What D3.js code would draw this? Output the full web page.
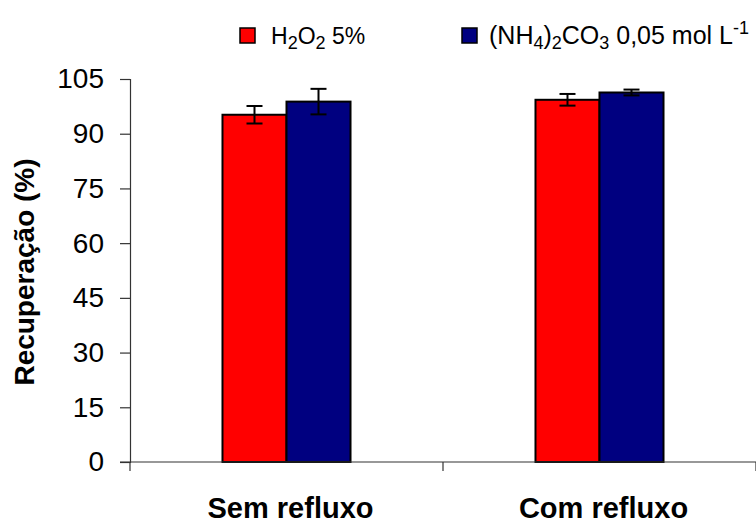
<!DOCTYPE html>
<html><head><meta charset="utf-8">
<script src="https://cdn.jsdelivr.net/npm/d3@7"></script>
<style>body{margin:0;background:#fff;}svg{display:block;font-family:Arial,"Liberation Sans",sans-serif;}</style>
</head><body>
<svg id="c" width="756" height="523"></svg>
<script>
const categories = ["Sem refluxo", "Com refluxo"];
const seriesNames = ["H2O2", "NH4CO3"];
const seriesColors = ["#ff0000", "#000080"];
const valuesH2O2 = [95.2, 99.3];
const errorsH2O2 = [2.4, 1.6];
const valuesNH4 = [98.8, 101.3];
const errorsNH4 = [3.5, 0.8];
const yTicks = [0, 15, 30, 45, 60, 75, 90, 105];

const svg = d3.select("#c");
const x0 = d3.scaleBand().domain(categories).range([130, 756]).padding(0);
const x1 = d3.scaleBand().domain(seriesNames).range([0, x0.bandwidth()]).paddingInner(0).paddingOuter(1.445);
const y = d3.scaleLinear().domain([0, 105]).range([462, 79]);

const data = categories.map((c, i) => ({
  cat: c,
  bars: [
    {s: seriesNames[0], v: valuesH2O2[i], e: errorsH2O2[i], col: seriesColors[0]},
    {s: seriesNames[1], v: valuesNH4[i], e: errorsNH4[i], col: seriesColors[1]}
  ]
}));

// y axis
const yAxis = svg.append("g").attr("transform", "translate(130,0)")
  .call(d3.axisLeft(y).tickValues(yTicks).tickSize(10).tickPadding(16));
yAxis.select(".domain").attr("stroke", "#333").attr("stroke-width", 1.2);
yAxis.selectAll(".tick line").attr("stroke", "#333").attr("stroke-width", 1.2);
yAxis.selectAll(".tick text").attr("font-size", 28).attr("fill", "#000")
  .attr("font-family", "Arial, 'Liberation Sans', sans-serif");

// bars
const g = svg.append("g");
data.forEach(d => {
  d.bars.forEach(b => {
    const bx = x0(d.cat) + x1(b.s);
    g.append("rect").attr("x", bx).attr("y", y(b.v))
      .attr("width", x1.bandwidth()).attr("height", y(0) - y(b.v))
      .attr("fill", b.col).attr("stroke", "#000").attr("stroke-width", 2);
  });
});
// error bars
data.forEach(d => {
  d.bars.forEach(b => {
    const cx = x0(d.cat) + x1(b.s) + x1.bandwidth() / 2;
    const eg = g.append("g").attr("stroke", "#000").attr("stroke-width", 2);
    eg.append("line").attr("x1", cx).attr("x2", cx).attr("y1", y(b.v + b.e)).attr("y2", y(b.v - b.e));
    eg.append("line").attr("x1", cx - 8).attr("x2", cx + 8).attr("y1", y(b.v + b.e)).attr("y2", y(b.v + b.e));
    eg.append("line").attr("x1", cx - 8).attr("x2", cx + 8).attr("y1", y(b.v - b.e)).attr("y2", y(b.v - b.e));
  });
});

// x axis
const xg = svg.append("g");
xg.append("line").attr("x1", 120).attr("x2", 756).attr("y1", y(0)).attr("y2", y(0))
  .attr("stroke", "#333").attr("stroke-width", 1.2);
const bounds = [x0.range()[0], x0(categories[1]), x0.range()[1]];
bounds.forEach(bx => {
  xg.append("line").attr("x1", bx).attr("x2", bx).attr("y1", y(0)).attr("y2", y(0) + 9)
    .attr("stroke", "#333").attr("stroke-width", 1.2);
});
categories.forEach(c => {
  svg.append("text").attr("x", x0(c) + x0.bandwidth() / 2 + 4).attr("y", 518)
    .attr("text-anchor", "middle").attr("font-size", 29).attr("font-weight", "bold")
    .attr("fill", "#000").text(c);
});

// y title
svg.append("text").attr("transform", "translate(34,272) rotate(-90)")
  .attr("text-anchor", "middle").attr("font-size", 28).attr("font-weight", "bold")
  .attr("fill", "#000").text("Recuperação (%)");

// legend
const leg = svg.append("g");
leg.append("rect").attr("x", 240).attr("y", 28).attr("width", 15).attr("height", 15)
  .attr("fill", seriesColors[0]).attr("stroke", "#000").attr("stroke-width", 1.5);
const t1 = leg.append("text").attr("x", 271).attr("y", 44).attr("font-size", 23).attr("fill", "#000");
t1.append("tspan").text("H");
t1.append("tspan").attr("font-size", 18).attr("dy", 5).text("2");
t1.append("tspan").attr("dy", -5).text("O");
t1.append("tspan").attr("font-size", 18).attr("dy", 5).text("2");
t1.append("tspan").attr("dy", -5).text(" 5%");

leg.append("rect").attr("x", 462).attr("y", 28).attr("width", 15).attr("height", 15)
  .attr("fill", seriesColors[1]).attr("stroke", "#000").attr("stroke-width", 1.5);
const t2 = leg.append("text").attr("x", 489).attr("y", 44).attr("font-size", 25).attr("fill", "#000");
t2.append("tspan").text("(NH");
t2.append("tspan").attr("font-size", 18).attr("dy", 5).text("4");
t2.append("tspan").attr("dy", -5).text(")");
t2.append("tspan").attr("font-size", 18).attr("dy", 5).text("2");
t2.append("tspan").attr("dy", -5).text("CO");
t2.append("tspan").attr("font-size", 18).attr("dy", 5).text("3");
t2.append("tspan").attr("dy", -5).text(" 0,05 mol L");
t2.append("tspan").attr("font-size", 18).attr("dy", -10).text("-1");
</script>
</body></html>
